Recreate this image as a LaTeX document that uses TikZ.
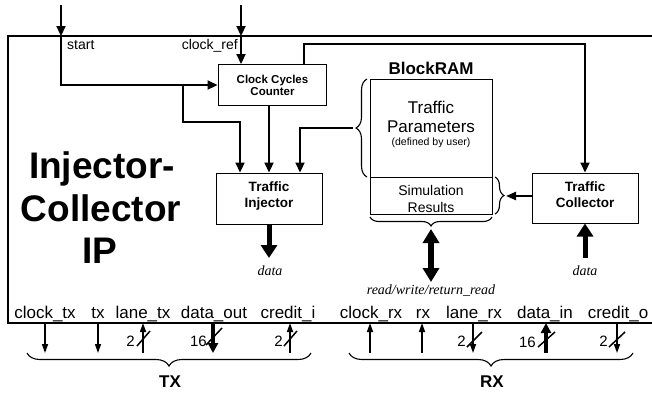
\documentclass[tikz,border=0pt]{standalone}
\usepackage{fontspec}
\setmainfont{Liberation Sans}
\newfontfamily\tnr{Liberation Serif}
\usetikzlibrary{arrows.meta,decorations.pathreplacing}
\newcommand\fsz[1]{\fontsize{#1}{#1}\selectfont}
\tikzset{
  box/.style={draw, line width=1pt, rectangle, inner sep=0pt},
  lbl/.style={inner sep=0pt, anchor=base},
  conn/.style={line width=2.2pt, -{Triangle[length=10pt,width=9pt]}},
  plainline/.style={line width=2.2pt},
  fatarrow/.style={line width=5pt, -{Triangle[length=13pt,width=16pt]}},
  dblarrow/.style={line width=6pt, {Triangle[length=14pt,width=16pt]}-{Triangle[length=14pt,width=16pt]}},
  portthin/.style={line width=1.6pt, -{Triangle[length=9pt,width=6pt]}},
  portfat/.style={line width=3.8pt, -{Triangle[length=10pt,width=10pt]}},
  slashmark/.style={line width=1.5pt},
  bracedeco/.style={line width=1.1pt, decorate, decoration={brace, amplitude=#1}},
  boxb/.style={lbl, font=\fsz{13.5}\bfseries},
  portlbl/.style={lbl, font=\fsz{17}},
  numlbl/.style={inner sep=0pt, anchor=base east, font=\fsz{15}},
  itl/.style={lbl, font=\fsz{14}\tnr\itshape},
}
\begin{document}
\begin{tikzpicture}[x=1pt,y=-1pt]
\useasboundingbox (0,0) rectangle (652,392);
\fill[white] (0,0) rectangle (652,392);
% outer frame
\draw[line width=1.2pt] (652,36) -- (8,36) -- (8,323) -- (652,323);

% title
\node[lbl, font=\fsz{37}\bfseries] (t1) at (102,178) {Injector-};
\node[lbl, font=\fsz{37}\bfseries] (t2) at (101,221) {Collector};
\node[lbl, font=\fsz{37}\bfseries] (t3) at (100,263) {IP};

% boxes
\node[box, minimum width=108pt, minimum height=41pt] (cc) at (272,85) {};
\node[box, minimum width=106pt, minimum height=51pt] (ti) at (269,198.5) {};
\node[box, minimum width=106pt, minimum height=50pt] (tc) at (585,198) {};
\node[box, minimum width=122pt, minimum height=98pt] (tp) at (431,128) {};
\node[box, minimum width=122pt, minimum height=37pt] (sr) at (431,195.5) {};

% box texts
\node[lbl, font=\fsz{11.5}\bfseries] (cct1) at (272.5,83.3) {Clock Cycles};
\node[lbl, font=\fsz{11.5}\bfseries] (cct2) at (272.5,95.7) {Counter};
\node[boxb] (tit1) at (269,191.7) {Traffic};
\node[boxb] (tit2) at (269,207) {Injector};
\node[boxb] (tct1) at (585,191.7) {Traffic};
\node[boxb] (tct2) at (585,207) {Collector};
\node[lbl, font=\fsz{17}\bfseries] (bram) at (431,74) {BlockRAM};
\node[lbl, font=\fsz{17}] (tpt1) at (431,113) {Traffic};
\node[lbl, font=\fsz{17}] (tpt2) at (431,132) {Parameters};
\node[lbl, font=\fsz{10.5}] (tpt3) at (431,145) {(defined by user)};
\node[lbl, font=\fsz{14}] (srt1) at (431,195) {Simulation};
\node[lbl, font=\fsz{14}] (srt2) at (431,212) {Results};

% inputs
\coordinate (startin) at (61,5);
\coordinate (startb) at (61,36);
\coordinate (clkin) at (241,5);
\coordinate (clkb) at (241,36);
\node[inner sep=0pt, anchor=base west, font=\fsz{14}] (startl) at (67,49) {start};
\node[inner sep=0pt, anchor=base east, font=\fsz{14}] (clkl) at (238,49) {clock\_ref};
\draw[conn] (startin) -- (startb);
\draw[conn] (clkin) -- (clkb);
\draw[conn] (startb) |- (cc.west);
\draw[conn] (clkb) -- (clkb |- cc.north);
\coordinate (br) at (183,85);
\draw[conn] (br) |- (240,122) -- ([xshift=-29pt]ti.north);
\draw[conn] (cc.south -| ti.north) -- (ti.north);
\coordinate (tptip) at (353,128);
\draw[conn] (tptip) -| ([xshift=31pt]ti.north);
\draw[conn] ([xshift=32pt]cc.north) -- ++(0,-20) -| (tc.north);

% braces
\draw[bracedeco=11pt] (367,177) -- (367,79);
\draw[bracedeco=9pt] (495,177) -- (495,214);
\draw[bracedeco=9pt] (492,217) -- (370,217);
\coordinate (srtip) at (506,196);
\draw[line width=2.2pt, -{Triangle[length=10pt,width=8pt]}] (tc.west |- srtip) -- (srtip);

% data arrows
\coordinate (tidata) at (269,258);
\draw[fatarrow] (ti.south) -- (tidata);
\node[itl] (tidl) at (270,275) {data};
\coordinate (tcdata) at (585,258);
\draw[fatarrow] (tcdata) -- (tc.south);
\node[itl] (tcdl) at (585,275) {data};
\coordinate (brtip) at (431,229);
\coordinate (rwend) at (431,282);
\draw[dblarrow] (brtip) -- (rwend);
\node[itl] (rwl) at (431,294) {read/write/return\_read};

% port labels
\node[portlbl] (pl1) at (45,318) {clock\_tx};
\node[portlbl] (pl2) at (98,318) {tx};
\node[portlbl] (pl3) at (143,318) {lane\_tx};
\node[portlbl] (pl4) at (214,318) {data\_out};
\node[portlbl] (pl5) at (288,318) {credit\_i};
\node[portlbl] (pl6) at (371,318) {clock\_rx};
\node[portlbl] (pl7) at (423,318) {rx};
\node[portlbl] (pl8) at (474,318) {lane\_rx};
\node[portlbl] (pl9) at (545,318) {data\_in};
\node[portlbl] (pl10) at (618,318) {credit\_o};

% port arrows (top at border y=323, bottom y=353)
\draw[portthin] (45,323) -- (45,353);
\draw[portthin] (98,323) -- (98,353);
\draw[portthin] (143,353) -- (143,323);
\draw[portfat] (213,323) -- (213,353);
\draw[portthin] (290,353) -- (290,323);
\draw[portthin] (370,353) -- (370,323);
\draw[portthin] (422,353) -- (422,323);
\draw[portthin] (473,323) -- (473,353);
\draw[portfat] (546,353) -- (546,323);
\draw[portthin] (617,323) -- (617,353);

% bus slashes and widths
\draw[slashmark] (137,346) -- (150,331);
\node[numlbl] (n1) at (135,346) {2};
\draw[slashmark] (206,345) -- (222,328);
\node[numlbl] (n2) at (207,346) {16};
\draw[slashmark] (284,346) -- (297,331);
\node[numlbl] (n3) at (283,346) {2};
\draw[slashmark] (467,347) -- (482,332);
\node[numlbl] (n4) at (466,346) {2};
\draw[slashmark] (538,347) -- (555,332);
\node[numlbl] (n5) at (536,347) {16};
\draw[slashmark] (609,347) -- (625,332);
\node[numlbl] (n6) at (608,346) {2};

% TX / RX braces
\draw[bracedeco=13pt] (311,353) -- (27,353);
\draw[bracedeco=13pt] (633,353) -- (349,353);
\node[lbl, font=\fsz{17}\bfseries] (txl) at (170,387) {TX};
\node[lbl, font=\fsz{17}\bfseries] (rxl) at (492,387) {RX};
\end{tikzpicture}
\end{document}
